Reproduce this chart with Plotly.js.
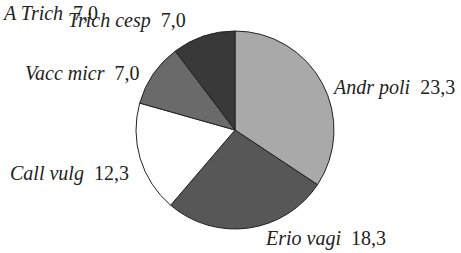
<!DOCTYPE html>
<html><head><meta charset="utf-8">
<script src="https://cdn.plot.ly/plotly-3.0.1.min.js"></script>
<style>html,body{margin:0;padding:0;background:#fff}#c{width:461px;height:253px}</style>
</head><body><div id="c"></div>
<script>
const species = ["Andr poli", "Erio vagi", "Call vulg", "Vacc micr", "Trich cesp"];
const values = [23.3, 18.3, 12.3, 7.0, 7.0];
const colors = ["#a9a9a9", "#575757", "#ffffff", "#6a6a6a", "#393939"];
const labelX = [0.716, 0.571, 0.018, 0.050, 0.143];
const labelY = [0.656, 0.059, 0.316, 0.711, 0.917];

const fmt = v => v.toFixed(1).replace('.', ',');
const annotations = species.map((s, i) => ({
  xref: 'paper', yref: 'paper', x: labelX[i], y: labelY[i],
  xanchor: 'left', yanchor: 'middle', showarrow: false,
  text: '<i>' + s + '</i>  ' + fmt(values[i]),
  font: {family: 'Tinos', size: 20, color: '#222222'}
}));
annotations.push({xref:'paper', yref:'paper', x:0, y:1, xanchor:'left', yanchor:'top', showarrow:false,
  text:'<i>A Trich</i>  7,0', font:{family:'Liberation Serif', size:20, color:'#222222'}});

const data = [{
  type: 'pie', labels: species, values: values, sort: false,
  direction: 'clockwise', rotation: 0,
  marker: {colors: colors, line: {color: '#222222', width: 1}},
  textinfo: 'none',
  domain: {x: [136/461, 334/461], y: [1 - 229/253, 1 - 31/253]}
}];
const layout = {
  width: 461, height: 253, margin: {l: 0, r: 0, t: 0, b: 0},
  showlegend: false, annotations: annotations
};
Plotly.newPlot('c', data, layout, {staticPlot: true});
</script></body></html>
